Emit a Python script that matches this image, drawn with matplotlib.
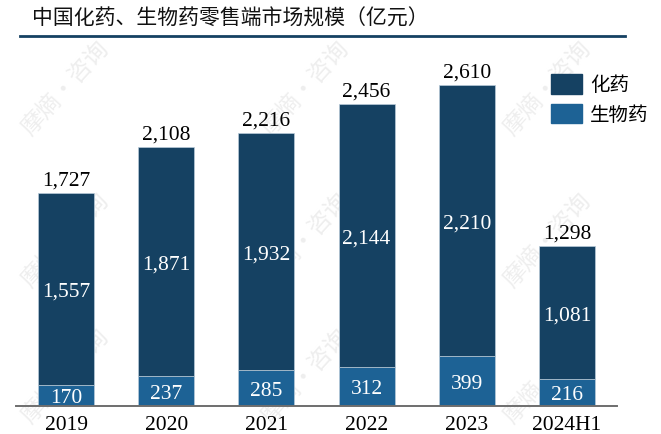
import matplotlib
matplotlib.use("Agg")
import matplotlib.pyplot as plt
from matplotlib.patches import Patch

CJK = ["Noto Sans CJK SC", "DejaVu Sans"]
SERIF = ["Liberation Serif", "DejaVu Serif"]

years = ["2019", "2020", "2021", "2022", "2023", "2024H1"]
chem = [1557, 1871, 1932, 2144, 2210, 1081]
bio = [170, 237, 285, 312, 399, 216]
totals = [1727, 2108, 2216, 2456, 2610, 1298]

dark = "#154162"
blue = "#1d6295"
W, H = 661, 435

fig = plt.figure(figsize=(W / 100, H / 100), dpi=100)
ax = fig.add_axes([16 / W, 1 - 406.5 / H, 601 / W, 368.5 / H])
ax.set_zorder(2)
ax.patch.set_visible(False)

# faint watermark, sits behind the bars
for wx in [65, 305, 547]:
    for wy in [88, 240, 376]:
        fig.text(wx / W, 1 - wy / H, "摩熵·咨询", family=CJK, fontsize=17, color="#eeeeee",
                 rotation=48, ha="center", va="center", zorder=0)

x = list(range(len(years)))
ax.bar(x, bio, width=0.56, color=blue, edgecolor="#b9cbd9", linewidth=0.5, label="生物药")
ax.bar(x, chem, width=0.56, bottom=bio, color=dark, edgecolor="#b9cbd9", linewidth=0.5, label="化药")

for i in x:
    ax.text(i, bio[i] / 2, f"{bio[i]:,}", color="white", family=SERIF, fontsize=15.5,
            ha="center", va="center_baseline")
    ax.text(i, bio[i] + chem[i] / 2, f"{chem[i]:,}", color="white", family=SERIF, fontsize=15.5,
            ha="center", va="center_baseline")
    ax.text(i, totals[i] + 28, f"{totals[i]:,}", color="black", family=SERIF, fontsize=15.5,
            ha="center", va="bottom")

ax.set_xlim(-0.5, 5.5)
ax.set_ylim(0, 3000)
ax.set_xticks(x)
ax.set_xticklabels(years, family=SERIF, fontsize=15.5)
ax.tick_params(axis="x", length=0, pad=7)
ax.set_yticks([])
for side in ["top", "left", "right"]:
    ax.spines[side].set_visible(False)
ax.spines["bottom"].set_color("#6e6e6e")
ax.spines["bottom"].set_linewidth(1.4)

# title and the rule under it
fig.text(32 / W, 1 - 19 / H, "中国化药、生物药零售端市场规模（亿元）", family=CJK, fontsize=15,
         color="#111111", ha="left", va="center")
fig.add_artist(plt.Line2D([20 / W, 625 / W], [1 - 36.5 / H, 1 - 36.5 / H], color=dark, linewidth=2))

handles = [Patch(color=dark, label="化药"), Patch(color=blue, label="生物药")]
fig.legend(handles=handles, loc="upper left", bbox_to_anchor=(551 / W, 1 - 75 / H), frameon=False,
           prop={"family": CJK, "size": 14}, handlelength=1.6, handleheight=1.18,
           handletextpad=0.4, labelspacing=0.42, borderpad=0, borderaxespad=0)

fig.savefig("out.png", dpi=100)
